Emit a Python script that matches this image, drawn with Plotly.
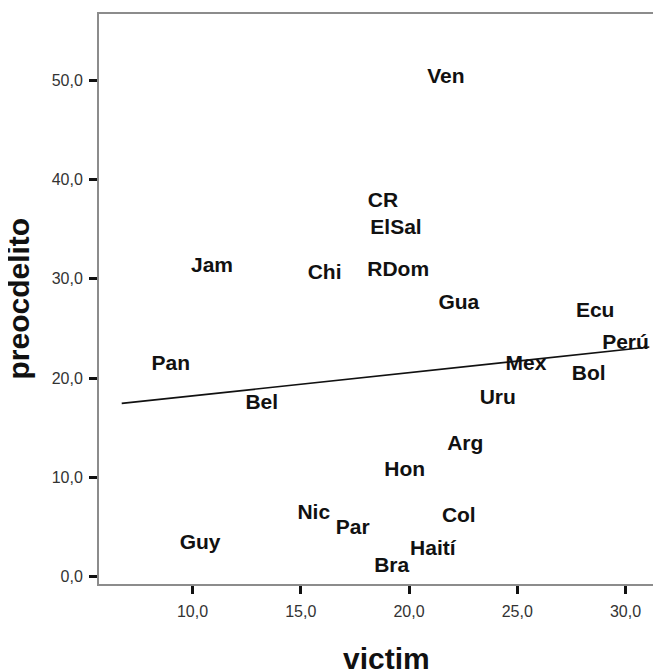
import plotly.graph_objects as go

countries = ["Ven", "CR", "ElSal", "Jam", "Chi", "RDom", "Gua", "Ecu", "Perú", "Pan",
             "Mex", "Bol", "Bel", "Uru", "Arg", "Hon", "Nic", "Col", "Par", "Guy",
             "Haití", "Bra"]
victim = [21.7, 18.8, 19.4, 10.9, 16.1, 19.5, 22.3, 28.6, 30.0, 9.0,
          25.4, 28.3, 13.2, 24.1, 22.6, 19.8, 15.6, 22.3, 17.4, 10.35,
          21.1, 19.2]
preocdelito = [50.2, 37.8, 35.0, 31.2, 30.5, 30.8, 27.5, 26.7, 23.5, 21.35,
               21.35, 20.3, 17.4, 17.9, 13.3, 10.7, 6.3, 6.0, 4.8, 3.3,
               2.75, 0.95]

# fit line
fit_x = [6.73, 31.1]
fit_intercept = 15.88
fit_slope = 0.233
fit_y = [fit_intercept + fit_slope * v for v in fit_x]

xticks = [10, 15, 20, 25, 30]
xticklabels = ["10,0", "15,0", "20,0", "25,0", "30,0"]
yticks = [0, 10, 20, 30, 40, 50]
yticklabels = ["0,0", "10,0", "20,0", "30,0", "40,0", "50,0"]

fig = go.Figure()
fig.add_trace(go.Scatter(x=fit_x, y=fit_y, mode="lines",
                         line=dict(color="#111111", width=1.6),
                         showlegend=False, hoverinfo="skip"))
fig.add_trace(go.Scatter(x=victim, y=preocdelito, mode="text", text=countries,
                         textposition="middle center",
                         textfont=dict(family="Liberation Sans", size=21,
                                       color="#111111", weight="bold"),
                         showlegend=False))

axis_common = dict(showgrid=False, zeroline=False, showline=True,
                   linecolor="#8c8c8c", linewidth=2,
                   ticks="outside", ticklen=8, tickwidth=3, tickcolor="#111111",
                   tickfont=dict(family="Liberation Sans", size=16, color="#333333"))

fig.update_layout(
    width=653, height=661,
    margin=dict(l=91, r=0, t=6, b=85),
    paper_bgcolor="white", plot_bgcolor="white",
    xaxis=dict(range=[5.68, 31.64], tickvals=xticks, ticktext=xticklabels,
               mirror=True, ticklabelstandoff=4, **axis_common),
    yaxis=dict(range=[-0.74, 56.67], tickvals=yticks, ticktext=yticklabels,
               ticklabelstandoff=3, **axis_common),
    annotations=[
        dict(text="<b>victim</b>", xref="paper", yref="paper", x=0.512, y=-0.098,
             xanchor="center", yanchor="top", showarrow=False,
             font=dict(family="Liberation Sans", size=30, color="#111111")),
        dict(text="<b>preocdelito</b>", xref="paper", yref="paper", x=-0.145, y=0.5,
             xanchor="center", yanchor="middle", textangle=-90, showarrow=False,
             font=dict(family="Liberation Sans", size=30, color="#111111")),
    ],
)

fig.write_html("out.html")
